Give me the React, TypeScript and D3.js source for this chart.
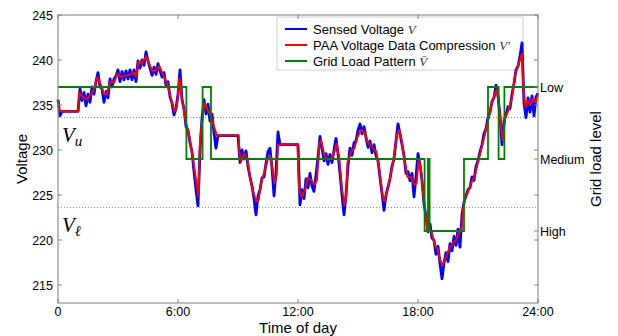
import React from 'react';
import * as d3 from 'd3';

const width = 618;
const height = 336;

// sensed voltage, one reading every 0.1 h from 0:00 to 24:00
const sensedStep = 0.1;
const sensedVoltage = [
  235.6, 233.8, 234.3, 234.3, 234.3, 234.3, 234.3, 234.3, 234.3, 234.3,
  234.3, 236.8, 235.5, 236.4, 234.9, 236.2, 235.3, 237.0, 236.2, 237.6,
  238.6, 237.0, 236.8, 235.3, 236.5, 235.8, 237.9, 237.0, 237.9, 238.2,
  238.9, 237.6, 238.7, 237.8, 238.8, 237.9, 238.9, 237.8, 238.9, 237.6,
  239.9, 239.1, 240.0, 239.4, 240.9, 239.9, 239.1, 238.3, 239.2, 238.4,
  239.6, 238.8, 238.1, 238.6, 237.2, 237.6, 235.9, 235.2, 233.9, 234.6,
  236.2, 238.9, 235.6, 234.6, 232.6, 232.2, 230.8, 229.8, 227.6, 225.6,
  223.8, 229.9, 233.6, 235.6, 234.0, 235.1, 233.2, 234.0, 231.9, 230.2,
  231.6, 231.6, 231.6, 231.6, 231.6, 231.6, 231.6, 231.6, 231.6, 231.6,
  231.6, 228.6, 230.0, 229.0, 229.9, 228.2, 227.0, 226.0, 224.6, 222.8,
  224.9, 225.6, 226.9, 227.0, 228.5, 229.8, 230.2, 228.0, 224.9, 227.6,
  232.0, 230.6, 230.6, 230.6, 230.6, 230.6, 230.6, 230.6, 230.6, 230.6,
  230.6, 223.9, 225.6, 224.6, 226.8, 225.8, 227.4, 226.0, 225.4, 227.2,
  229.2, 231.5, 230.2, 228.8, 229.6, 228.4, 229.5, 228.6, 230.0, 231.3,
  229.6, 227.4, 225.0, 222.8, 225.0, 228.2, 230.2, 229.4, 230.8, 231.0,
  232.2, 232.9, 231.8, 232.6, 231.4, 230.3, 231.0, 229.7, 230.6, 229.4,
  228.8, 226.9, 225.2, 223.3, 225.0, 225.9, 226.8, 228.2, 229.0, 231.0,
  232.9, 231.8, 230.6, 229.4, 227.4, 227.6, 226.6, 227.4, 224.8, 227.0,
  229.6, 228.4, 226.6, 224.0, 222.6, 220.9, 221.8, 220.2, 220.0, 218.4,
  219.3, 217.4, 215.7, 217.4, 218.6, 217.6, 219.6, 218.8, 220.4, 219.4,
  221.2, 219.2, 222.8, 224.2, 224.9, 225.6, 225.8, 227.0, 226.6, 228.2,
  228.8, 229.8, 230.6, 231.8, 232.4, 233.6, 234.2, 235.4, 235.8, 237.2,
  236.0, 233.8, 230.6, 233.2, 233.9, 234.8, 234.6, 236.2, 237.4, 238.9,
  239.3, 240.4, 241.9, 235.2, 233.6, 235.8, 234.2, 236.0, 233.8, 235.9,
  236.3,
];

// PAA compressed voltage
const paaHours = [
  0, 0.08, 1.02, 1.05, 1.2, 1.4, 1.57, 1.75, 1.98, 2.1, 2.3, 2.45, 2.6, 2.8, 2.98,
  3.15, 3.35, 3.5, 3.65, 3.8, 3.9, 4.03, 4.2, 4.4, 4.57, 4.73, 4.9, 5.07, 5.23,
  5.48, 5.65, 5.82, 5.95, 6.07, 6.23, 6.4, 6.57, 6.73, 6.9, 7.03, 7.1, 7.2, 7.32,
  7.48, 7.65, 7.82, 7.95, 9.03, 9.07, 9.15, 9.32, 9.48, 9.57, 9.73, 9.9, 10.03,
  10.15, 10.32, 10.48, 10.62, 10.73, 10.82, 10.93, 11.0, 11.98, 12.05, 12.2, 12.35,
  12.48, 12.65, 12.82, 12.95, 13.07, 13.15, 13.32, 13.48, 13.65, 13.82, 13.93,
  14.07, 14.2, 14.32, 14.4, 14.48, 14.65, 14.82, 14.98, 15.15, 15.32, 15.48, 15.65,
  15.82, 15.92, 16.07, 16.23, 16.32, 16.48, 16.65, 16.82, 16.93, 17.03, 17.15,
  17.32, 17.48, 17.65, 17.82, 17.93, 18.03, 18.15, 18.27, 18.4, 18.48, 18.57, 18.7,
  18.82, 18.98, 19.1, 19.23, 19.4, 19.57, 19.73, 19.9, 20.03, 20.1, 20.2, 20.25,
  20.37, 20.48, 20.65, 20.82, 20.98, 21.15, 21.32, 21.48, 21.65, 21.82, 21.93,
  22.03, 22.15, 22.23, 22.37, 22.53, 22.7, 22.87, 23.03, 23.2, 23.27, 23.37, 23.48,
  23.6, 23.73, 23.87, 24,
];
const paaVoltage = [
  235.2, 234.3, 234.3, 236.4, 236.0, 235.6, 235.9, 236.5, 238.1, 237.5, 236.2, 236.2,
  237.6, 237.5, 238.5, 238.1, 238.3, 238.3, 238.4, 238.6, 238.2, 239.8, 239.6, 240.4,
  239.5, 238.7, 238.9, 239.3, 238.5, 237.2, 235.7, 234.3, 234.9, 238.0, 235.2, 233.0,
  231.5, 229.3, 226.7, 224.8, 231.1, 233.0, 235.2, 234.5, 233.8, 232.4, 231.6, 231.6,
  229.6, 228.7, 229.6, 228.9, 227.4, 225.6, 224.3, 224.4, 226.3, 227.6, 228.9, 229.3,
  227.8, 226.3, 227.2, 230.6, 230.6, 225.6, 224.8, 225.6, 226.9, 226.7, 226.1, 226.7,
  230.7, 231.1, 229.4, 228.9, 229.0, 229.8, 230.7, 228.9, 225.6, 223.9, 224.4, 228.7,
  229.8, 230.2, 231.5, 232.2, 232.0, 230.9, 230.4, 230.0, 229.8, 227.8, 224.8, 224.3,
  225.6, 227.4, 229.6, 231.5, 232.2, 231.5, 228.9, 227.0, 227.0, 226.1, 226.3, 228.9,
  227.8, 224.8, 222.4, 221.1, 221.3, 220.7, 219.6, 218.9, 217.8, 217.2, 218.1, 219.1,
  219.6, 220.0, 220.7, 221.0, 221.5, 223.3, 224.8, 225.2, 226.3, 227.0, 228.5, 230.0,
  231.5, 233.0, 234.8, 236.1, 236.7, 235.4, 232.6, 231.1, 233.7, 234.4, 235.9, 238.5,
  239.6, 240.7, 236.7, 234.8, 235.5, 235.0, 235.7, 235.3, 236.1,
];

// grid load pattern: level from each start hour
const loadStart = [0, 6.42, 7.23, 7.65, 18.33, 18.5, 18.58, 20.3, 21.5, 22.03, 22.32, 24];
const loadLevel = ['Low', 'Medium', 'Low', 'Medium', 'High', 'Medium', 'High', 'Medium', 'Low', 'Medium', 'Low', 'Low'];

const levelNames = ['Low', 'Medium', 'High'];
const levelVoltage = [237, 229, 221];

const upperLimit = 233.6;
const lowerLimit = 223.6;

const xTicks = [0, 6, 12, 18, 24];
const xTickLabels = ['0', '6:00', '12:00', '18:00', '24:00'];
const yTicks = [215, 220, 225, 230, 235, 240, 245];

const x = d3.scaleLinear().domain([0, 24]).range([58, 538]);
const y = d3.scaleLinear().domain([213, 245]).range([303, 15]);
const levelY = d3.scaleOrdinal<string, number>().domain(levelNames).range(levelVoltage);

const font = 'Arial, "Liberation Sans", sans-serif';
const serif = '"Liberation Serif", "Times New Roman", serif';
const axisColor = '#7f7f7f';

export default function App() {
  const sensedLine = d3.line<number>()
    .x((_, i) => x(i * sensedStep))
    .y(d => y(d));
  const paaLine = d3.line<number>()
    .x((_, i) => x(paaHours[i]))
    .y(d => y(d));
  const loadLine = d3.line<string>()
    .x((_, i) => x(loadStart[i]))
    .y(d => y(levelY(d)))
    .curve(d3.curveStepAfter);

  const [x0, x1] = x.range();
  const [yb, yt] = y.range();

  return (
    <svg width={width} height={height} style={{ position: 'absolute', left: 0, top: 0, background: '#fff' }}>
      {/* legend */}
      <g>
        <rect x={277} y={17} width={246} height={53} fill="#fff" stroke="#d0d0d0" />
        {[
          { c: '#0000ff', t: 'Sensed Voltage ', s: 'V' },
          { c: '#ff0000', t: 'PAA Voltage Data Compression ', s: 'V′' },
          { c: '#008000', t: 'Grid Load Pattern ', s: 'V\u0304' },
        ].map((e, i) => (
          <g key={e.t} transform={`translate(0,${29 + i * 16})`}>
            <line x1={285} x2={307} y1={0} y2={0} stroke={e.c} strokeWidth={2} />
            <text x={313} y={4.5} fontFamily={font} fontSize={13}>
              {e.t}
              <tspan fontFamily={serif} fontStyle="italic" fill="#333">{e.s}</tspan>
            </text>
          </g>
        ))}
      </g>

      {/* limits */}
      {[upperLimit, lowerLimit].map(v => (
        <line key={v} x1={x0} x2={x1} y1={y(v)} y2={y(v)} stroke="#888" strokeWidth={1} strokeDasharray="1,2" />
      ))}

      <path d={sensedLine(sensedVoltage) ?? ''} fill="none" stroke="#0000ff" strokeWidth={2.8} strokeLinejoin="round" />
      <path d={paaLine(paaVoltage) ?? ''} fill="none" stroke="#ff0000" strokeWidth={2} strokeLinejoin="round" />
      <path d={loadLine(loadLevel) ?? ''} fill="none" stroke="#008000" strokeWidth={1.8} />

      {/* box and ticks */}
      <rect x={x0} y={yt} width={x1 - x0} height={yb - yt} fill="none" stroke={axisColor} strokeWidth={1} />
      {xTicks.map((t, i) => (
        <g key={t}>
          <line x1={x(t)} x2={x(t)} y1={yb} y2={yb - 4} stroke={axisColor} />
          <line x1={x(t)} x2={x(t)} y1={yt} y2={yt + 4} stroke={axisColor} />
          <text x={x(t)} y={yb + 13} textAnchor="middle" fontFamily={font} fontSize={12.5}>{xTickLabels[i]}</text>
        </g>
      ))}
      {yTicks.map(t => (
        <g key={t}>
          <line x1={x0} x2={x0 + 4} y1={y(t)} y2={y(t)} stroke={axisColor} />
          <line x1={x1} x2={x1 - 4} y1={y(t)} y2={y(t)} stroke={axisColor} />
          <text x={x0 - 5} y={y(t) + 4.5} textAnchor="end" fontFamily={font} fontSize={12.5}>{t}</text>
        </g>
      ))}
      {levelNames.map((n, i) => (
        <g key={n}>
          <line x1={x1} x2={x1 - 4} y1={y(levelVoltage[i])} y2={y(levelVoltage[i])} stroke={axisColor} />
          <text x={x1 + 2} y={y(levelVoltage[i]) + 4.5} fontFamily={font} fontSize={12.5}>{n}</text>
        </g>
      ))}

      {/* axis titles */}
      <text x={(x0 + x1) / 2} y={333} textAnchor="middle" fontFamily={font} fontSize={15}>Time of day</text>
      <text transform={`translate(27,${(yb + yt) / 2}) rotate(-90)`} textAnchor="middle" fontFamily={font} fontSize={15}>Voltage</text>
      <text transform={`translate(601,${(yb + yt) / 2}) rotate(-90)`} textAnchor="middle" fontFamily={font} fontSize={15}>Grid load level</text>

      {/* limit labels */}
      <text x={62} y={y(upperLimit) + 24} fontFamily={serif} fontStyle="italic" fontSize={21}>
        V<tspan fontSize={15} dy={4}>u</tspan>
      </text>
      <text x={62} y={y(lowerLimit) + 24} fontFamily={serif} fontStyle="italic" fontSize={21}>
        V<tspan fontSize={15} dy={4}>ℓ</tspan>
      </text>
    </svg>
  );
}
